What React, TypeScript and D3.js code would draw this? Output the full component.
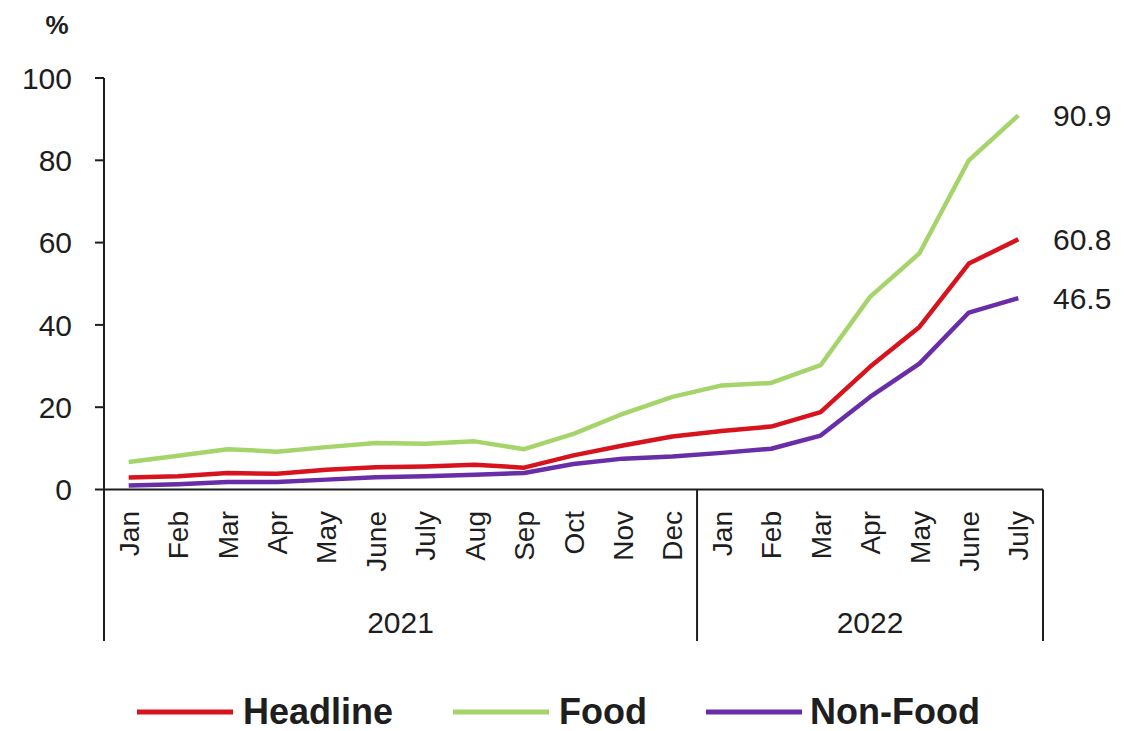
import React from "react";
import * as d3 from "d3";

const months = ["Jan","Feb","Mar","Apr","May","June","July","Aug","Sep","Oct","Nov","Dec","Jan","Feb","Mar","Apr","May","June","July"];
const years = [{ label: "2021", start: 0, end: 12 }, { label: "2022", start: 12, end: 19 }];
const headline = [2.9, 3.2, 4.0, 3.8, 4.8, 5.4, 5.6, 6.0, 5.3, 8.3, 10.7, 12.9, 14.2, 15.3, 18.8, 29.8, 39.5, 54.9, 60.8];
const food = [6.7, 8.2, 9.8, 9.2, 10.3, 11.3, 11.1, 11.7, 9.8, 13.5, 18.4, 22.5, 25.3, 25.9, 30.2, 46.8, 57.4, 80.0, 90.9];
const nonFood = [1.0, 1.3, 1.8, 1.8, 2.4, 3.0, 3.2, 3.6, 4.0, 6.2, 7.5, 8.0, 8.9, 9.9, 13.1, 22.5, 30.6, 43.0, 46.5];
const yTicks = [0, 20, 40, 60, 80, 100];
const endLabels = ["60.8", "90.9", "46.5"];

const seriesDefs = [
  { name: "Headline", values: headline, color: "#D7141E" },
  { name: "Food", values: food, color: "#A5D46A" },
  { name: "Non-Food", values: nonFood, color: "#6A2DA8" },
];

const FONT = "'Liberation Sans', Arial, sans-serif";
const INK = "#1e1e1e";

export default function App() {
  const W = 1148, H = 731;
  const x0 = 104, x1 = 1043, yTop = 78, yBot = 489.5, groupBottom = 641;
  const idx = months.map((_, i) => i);
  const band = d3.scaleBand<number>().domain(idx).range([x0, x1]);
  const xc = (i: number) => (band(i) as number) + band.bandwidth() / 2;
  const y = d3.scaleLinear().domain([0, 100]).range([yBot, yTop]);
  const line = d3.line<number>().x((_, i) => xc(i)).y((d) => y(d));

  const legendItems = [
    { ...seriesDefs[0], lx: 137, tx: 243 },
    { ...seriesDefs[1], lx: 453, tx: 559 },
    { ...seriesDefs[2], lx: 706, tx: 810 },
  ];

  return (
    <svg width={W} height={H} style={{ position: "absolute", left: 0, top: 0, background: "#fff" }} fontFamily={FONT}>
      <rect x={0} y={0} width={W} height={H} fill="#fff" />
      <text x={57} y={34} fontSize={26} fontWeight="bold" fill={INK} textAnchor="middle">%</text>
      {/* y axis */}
      <line x1={x0} x2={x0} y1={yTop} y2={groupBottom} stroke={INK} strokeWidth={2} />
      {yTicks.map((t) => (
        <g key={t}>
          <line x1={x0 - 9} x2={x0} y1={y(t)} y2={y(t)} stroke={INK} strokeWidth={2} />
          <text x={72} y={y(t)} dy="0.36em" textAnchor="end" fontSize={30} fill={INK}>{t}</text>
        </g>
      ))}
      {/* x axis */}
      <line x1={x0} x2={x1} y1={yBot} y2={yBot} stroke={INK} strokeWidth={2} />
      {years.map((g) => (
        <g key={g.label}>
          {g.start > 0 && (
            <line x1={band(g.start) as number} x2={band(g.start) as number} y1={yBot} y2={groupBottom} stroke={INK} strokeWidth={2} />
          )}
          <text x={((band(g.start) as number) + ((band(g.end - 1) as number) + band.bandwidth())) / 2} y={633} textAnchor="middle" fontSize={30} fill={INK}>{g.label}</text>
        </g>
      ))}
      <line x1={x1} x2={x1} y1={yBot} y2={groupBottom} stroke={INK} strokeWidth={2} />
      {months.map((m, i) => (
        <text key={i} transform={`translate(${xc(i)},${511}) rotate(-90)`} dy="0.36em" textAnchor="end" fontSize={28} fill={INK}>{m}</text>
      ))}
      {/* series */}
      {[seriesDefs[1], seriesDefs[0], seriesDefs[2]].map((s) => (
        <path key={s.name} d={line(s.values) || ""} fill="none" stroke={s.color} strokeWidth={4.5} strokeLinejoin="round" />
      ))}
      {seriesDefs.map((s, k) => (
        <text key={s.name} x={1053} y={y(s.values[s.values.length - 1])} dy="0.36em" fontSize={30} fill={INK}>{endLabels[k]}</text>
      ))}
      {/* legend */}
      {legendItems.map((l) => (
        <g key={l.name}>
          <line x1={l.lx} x2={l.lx + 96} y1={712} y2={712} stroke={l.color} strokeWidth={5} />
          <text x={l.tx} y={724} fontSize={36} fontWeight="bold" fill={INK}>{l.name}</text>
        </g>
      ))}
    </svg>
  );
}
